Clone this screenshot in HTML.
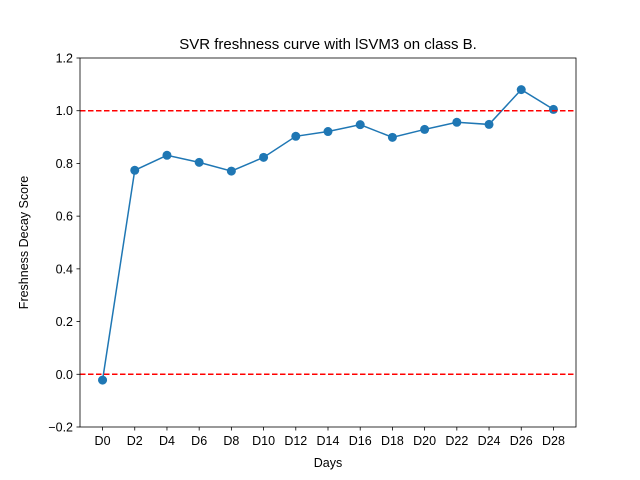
<!DOCTYPE html>
<html><head><meta charset="utf-8"><style>
body{margin:0;background:#fff}
svg{display:block;font-family:"Liberation Sans","DejaVu Sans",sans-serif}
</style></head><body>
<svg id="chart" width="640" height="480">
<rect width="640" height="480" fill="#fff"/>
</svg>
<script>
const categories=["D0","D2","D4","D6","D8","D10","D12","D14","D16","D18","D20","D22","D24","D26","D28"];
const scores=[-0.022,0.774,0.831,0.804,0.771,0.823,0.903,0.921,0.947,0.899,0.929,0.956,0.948,1.080,1.005];
const yTicks=[-0.2,0.0,0.2,0.4,0.6,0.8,1.0,1.2];
const refLines=[0,1];
const L=80,R=576,T=58,B=427;
const svg=document.getElementById('chart');
const NS='http://www.w3.org/2000/svg';
function x(i){return L+(i+0.7)*(R-L)/(categories.length-1+1.4);}
function y(v){return B-(v+0.2)/1.4*(B-T);}
function mk(tag,attrs,parent){const e=document.createElementNS(NS,tag);for(const k in attrs)e.setAttribute(k,attrs[k]);(parent||svg).appendChild(e);return e;}
function txt(s,attrs){const e=mk('text',attrs);e.textContent=s;return e;}
yTicks.forEach(v=>{
  const t=mk('line',{x1:L-3.5,x2:L,y1:y(v),y2:y(v),stroke:'#000','stroke-width':0.8});
  
  
  const l=txt(v.toFixed(1).replace('-','\u2212'),{x:L-7,y:y(v)+4.5,'text-anchor':'end','font-size':12.5,fill:'#000'});
  
  
});
categories.forEach((c,i)=>{
  const t=mk('line',{x1:x(i),x2:x(i),y1:B,y2:B+3.5,stroke:'#000','stroke-width':0.8});
  
  
  const l=txt(c,{x:x(i),y:B+18,'text-anchor':'middle','font-size':12.5,fill:'#000'});
  
  
});
const pts=scores.map((v,i)=>x(i)+','+y(v)).join(' ');
const line=mk('polyline',{points:pts,fill:'none',stroke:'#1f77b4','stroke-width':1.5});


scores.forEach((v,i)=>{
  const p=mk('circle',{cx:x(i),cy:y(v),r:4.5,fill:'#1f77b4'});
  
  
});
refLines.forEach(v=>{
  const r=mk('line',{x1:L,x2:R,y1:y(v),y2:y(v),stroke:'#ff0000','stroke-width':1.5,'stroke-dasharray':'5.5,2.5'});
  
  
});
const frame=mk('rect',{x:L,y:T,width:R-L,height:B-T,fill:'none',stroke:'#000','stroke-width':0.8});


const title=txt('SVR freshness curve with lSVM3 on class B.',{x:(L+R)/2,y:T-9,'text-anchor':'middle','font-size':15,fill:'#000'});


const xt=txt('Days',{x:(L+R)/2,y:467,'text-anchor':'middle','font-size':12.5,fill:'#000'});


const yt=txt('Freshness Decay Score',{x:0,y:0,'text-anchor':'middle','font-size':12.5,fill:'#000',transform:'translate(28,'+((T+B)/2)+') rotate(-90)'});


</script>
</body></html>
